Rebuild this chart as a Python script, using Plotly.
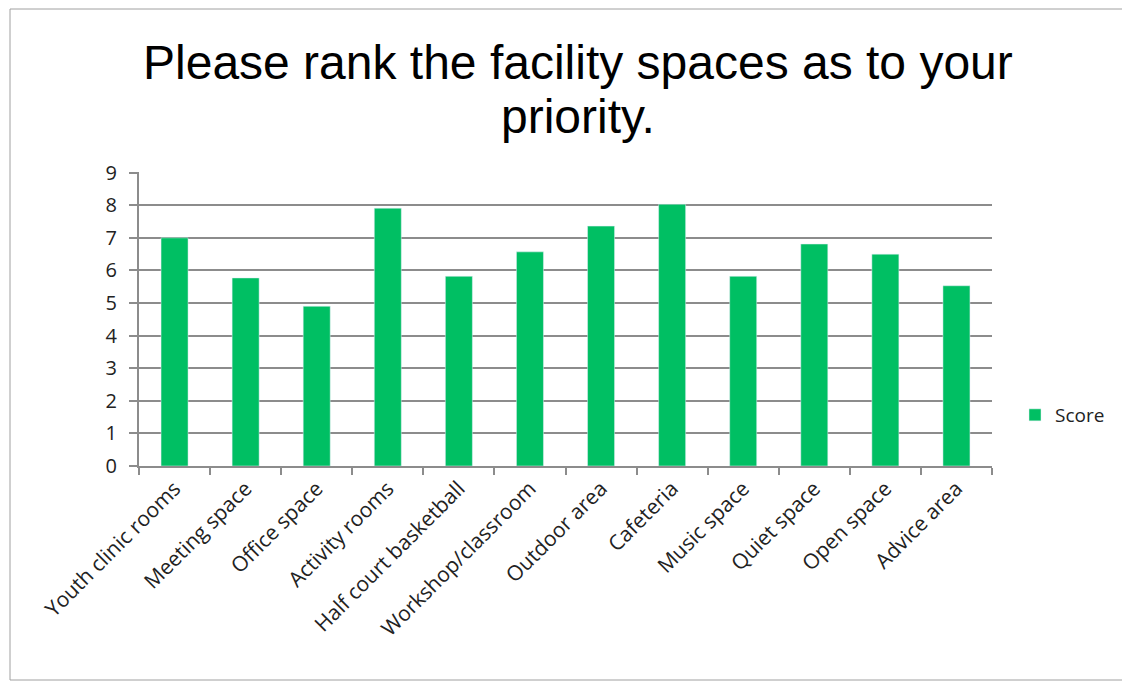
import plotly.graph_objects as go

categories = ["Youth clinic rooms", "Meeting space", "Office space", "Activity rooms",
              "Half court basketball", "Workshop/classroom", "Outdoor area", "Cafeteria",
              "Music space", "Quiet space", "Open space", "Advice area"]
scores = [7.0, 5.77, 4.90, 7.91, 5.82, 6.57, 7.36, 8.03, 5.82, 6.81, 6.50, 5.53]
y_ticks = [0, 1, 2, 3, 4, 5, 6, 7, 8, 9]
title_lines = ["Please rank the facility spaces as to your", "priority."]

OFFX, OFFY = 5, 8
W, H = 1122, 676
L, T = 136 - OFFX, 172 - OFFY
R = W - (989 - OFFX)
B = H - (466 - OFFY)
pw, ph = W - L - R, H - T - B

def px(x):
    return (x - OFFX - L) / pw

def py(y):
    return (H - B - (y - OFFY)) / ph

fig = go.Figure()
fig.add_trace(go.Bar(x=categories, y=scores, name="Score", marker_color="#00BF63",
                     width=0.38, showlegend=True))

fig.update_layout(
    width=W, height=H,
    margin=dict(l=L, r=R, t=T, b=B),
    paper_bgcolor="white", plot_bgcolor="white",
    font=dict(family="Open Sans, Calibri, sans-serif", size=19, color="#222"),
    showlegend=True,
    legend=dict(x=px(1012), y=py(415), xanchor="left", yanchor="middle",
                font=dict(size=19, color="#222"), bgcolor="rgba(0,0,0,0)"),
)
for txt, yc in zip(title_lines, [63, 117]):
    fig.add_annotation(text=txt, xref="paper", yref="paper", x=px(575), y=py(yc),
                       xanchor="center", yanchor="middle", showarrow=False,
                       font=dict(family="Liberation Sans, Arial", size=48, color="black"))

fig.update_xaxes(tickangle=-45, showline=True, linecolor="#8c8c8c", linewidth=2,
                 ticks="outside", tickson="boundaries", ticklen=7, tickcolor="#8c8c8c",
                 tickwidth=2, tickfont=dict(size=21, color="#222"), showgrid=False)
fig.update_yaxes(range=[0, 9.02], tickvals=y_ticks, showline=True, linecolor="#8c8c8c",
                 linewidth=2, ticks="outside", ticklen=8, tickcolor="#8c8c8c", tickwidth=2,
                 showgrid=True, gridcolor="#8c8c8c", gridwidth=2, zeroline=False,
                 ticklabelstandoff=8, tickfont=dict(size=20, color="#222"))

fig.add_shape(type="rect", xref="paper", yref="paper",
              x0=px(7), x1=px(1121), y0=py(680), y1=py(9),
              line=dict(color="#a0a0a0", width=1), fillcolor="rgba(0,0,0,0)", layer="below")

fig.write_html("out.html")
